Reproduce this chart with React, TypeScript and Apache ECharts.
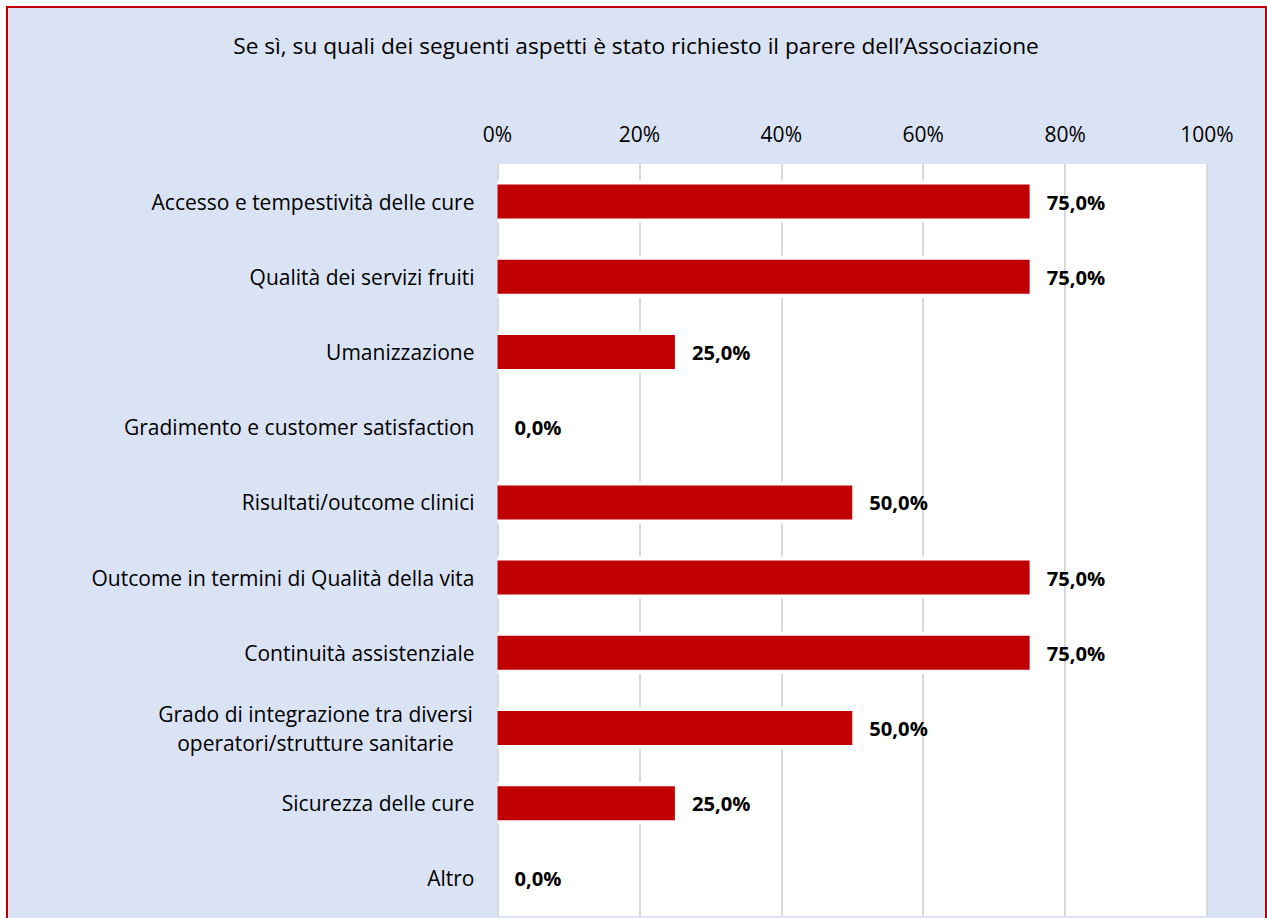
import React, { useEffect, useRef } from "react";
import * as echarts from "echarts";

const titleText = "Se sì, su quali dei seguenti aspetti è stato richiesto il parere dell’Associazione";
const categories = [
  "Accesso e tempestività delle cure",
  "Qualità dei servizi fruiti",
  "Umanizzazione",
  "Gradimento e customer satisfaction",
  "Risultati/outcome clinici",
  "Outcome in termini di Qualità della vita",
  "Continuità assistenziale",
  "Grado di integrazione tra diversi\noperatori/strutture sanitarie",
  "Sicurezza delle cure",
  "Altro",
];
const values = [75, 75, 25, 0, 50, 75, 75, 50, 25, 0];
const axisMin = 0;
const axisMax = 100;
const axisStep = 20;

const FONT = "'Open Sans'";

export default function App() {
  const ref = useRef<HTMLDivElement>(null);
  useEffect(() => {
    if (!ref.current) return;
    const chart = echarts.init(ref.current, undefined, { renderer: "svg" });
    chart.setOption({
      animation: false,
      backgroundColor: "#ffffff",
      textStyle: { fontFamily: FONT },
      graphic: [
        {
          type: "rect",
          z: -10,
          silent: true,
          shape: { x: 7, y: 7, width: 1259, height: 1000 },
          style: { fill: "#DAE3F3", stroke: "#C00000", lineWidth: 2 },
        },
        {
          type: "text",
          z: 10,
          x: 636,
          y: 45,
          style: {
            text: titleText,
            fontFamily: FONT,
            fontSize: 22.7,
            fill: "#000000",
            textAlign: "center",
            textVerticalAlign: "middle",
          },
        },
      ],
      grid: {
        left: 497.5,
        right: 60,
        top: 164,
        height: 752,
        show: true,
        backgroundColor: "#ffffff",
        borderWidth: 0,
        containLabel: false,
      },
      xAxis: {
        type: "value",
        position: "top",
        min: axisMin,
        max: axisMax,
        interval: axisStep,
        axisLine: { show: false },
        axisTick: { show: false },
        splitLine: { show: true, lineStyle: { color: "#D9D9D9", width: 2 } },
        axisLabel: {
          formatter: (v: number) => `${v}%`,
          fontFamily: FONT,
          fontSize: 21,
          color: "#000000",
          margin: 20,
        },
      },
      yAxis: [
        {
          type: "category",
          inverse: true,
          data: categories,
          axisLine: { show: false },
          axisTick: { show: false },
          splitLine: { show: false },
          axisLabel: {
            fontFamily: FONT,
            fontSize: 21,
            color: "#000000",
            margin: 23,
            formatter: (v: string) =>
              v.includes("\n")
                ? v.split("\n").map((s) => `{c|${s}}`).join("\n")
                : v,
            rich: {
              c: {
                width: 318,
                align: "center",
                fontFamily: FONT,
                fontSize: 21,
                lineHeight: 29,
                color: "#000000",
              },
            },
          },
        },
        {
          type: "category",
          inverse: true,
          data: categories,
          show: false,
        },
      ],
      series: [
        {
          type: "bar",
          yAxisIndex: 0,
          barWidth: 42,
          silent: true,
          data: values,
          itemStyle: { color: "#ffffff" },
        },
        {
          type: "bar",
          yAxisIndex: 1,
          barWidth: 34,
          data: values,
          itemStyle: { color: "#C00000" },
          label: {
            show: true,
            position: "right",
            distance: 17,
            formatter: (p: any) => `${Number(p.value).toFixed(1).replace(".", ",")}%`,
            fontFamily: FONT,
            fontSize: 20.2,
            fontWeight: "bold",
            color: "#000000",
          },
        },
      ],
    });
    return () => chart.dispose();
  }, []);
  return (
    <div
      ref={ref}
      style={{ position: "absolute", left: 0, top: 0, width: 1267, height: 918 }}
    />
  );
}
